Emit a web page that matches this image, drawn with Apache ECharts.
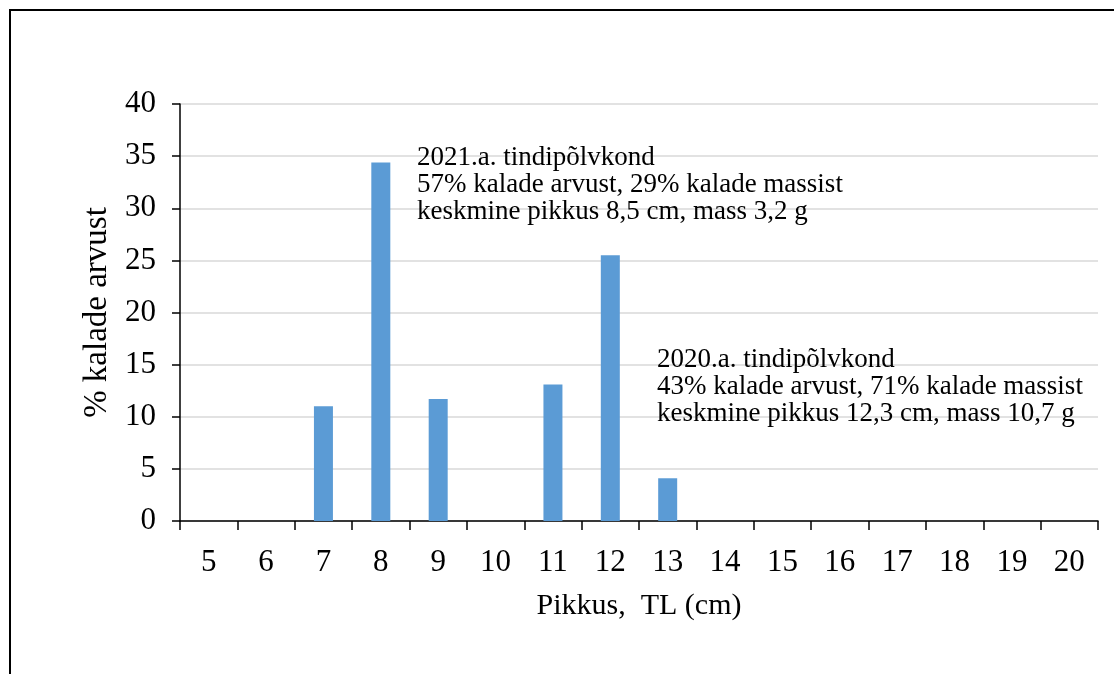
<!DOCTYPE html>
<html>
<head>
<meta charset="utf-8">
<style>
  html, body { margin: 0; padding: 0; background: #fff; }
  #chart { width: 1114px; height: 674px; }
</style>
<script src="https://cdn.jsdelivr.net/npm/echarts@6/dist/echarts.min.js"></script>
</head>
<body>
<div id="chart"></div>
<script>
// Length classes (TL, cm) and share of fish per class (%)
const lengthClasses = ['5','6','7','8','9','10','11','12','13','14','15','16','17','18','19','20'];
const shareOfCount = [0, 0, 11.0, 34.4, 11.7, 0, 13.1, 25.5, 4.1, 0, 0, 0, 0, 0, 0, 0];
const yTicks = { min: 0, max: 40, interval: 5 };

const cohort2021 = [
  '2021.a. tindipõlvkond',
  '57% kalade arvust, 29% kalade massist',
  'keskmine pikkus 8,5 cm, mass 3,2 g'
];
const cohort2020 = [
  '2020.a. tindipõlvkond',
  '43% kalade arvust, 71% kalade massist',
  'keskmine pikkus 12,3 cm, mass 10,7 g'
];

const FONT = '"Liberation Serif", "Times New Roman", serif';
const chart = echarts.init(document.getElementById('chart'));

function noteBlock(lines, x, y) {
  return {
    type: 'text',
    left: x,
    top: y,
    style: {
      text: lines.join('\n'),
      font: '27px ' + FONT,
      fill: '#000',
      lineHeight: 27
    },
    z: 10
  };
}

chart.setOption({
  animation: false,
  grid: { left: 180, right: 16, top: 104, bottom: 153, containLabel: false },
  xAxis: {
    type: 'category',
    data: lengthClasses,
    name: 'Pikkus,  TL (cm)',
    nameLocation: 'middle',
    nameGap: 70,
    nameTextStyle: { fontFamily: FONT, fontSize: 30, color: '#000' },
    axisLine: { lineStyle: { color: '#000', width: 1.5 } },
    axisTick: { show: true, length: 9, alignWithLabel: false, lineStyle: { color: '#000', width: 1.5 } },
    axisLabel: { fontFamily: FONT, fontSize: 31, color: '#000', margin: 26 },
    splitLine: { show: false }
  },
  yAxis: {
    type: 'value',
    min: yTicks.min,
    max: yTicks.max,
    interval: yTicks.interval,
    name: '% kalade arvust',
    nameLocation: 'middle',
    nameGap: 65,
    nameTextStyle: { fontFamily: FONT, fontSize: 33, color: '#000' },
    axisLine: { show: true, lineStyle: { color: '#000', width: 1.5 } },
    axisTick: { show: true, length: 8, lineStyle: { color: '#000', width: 1.5 } },
    axisLabel: { fontFamily: FONT, fontSize: 31, color: '#000', margin: 24 },
    splitLine: { lineStyle: { color: '#d9d9d9', width: 1.5 } }
  },
  series: [{
    type: 'bar',
    data: shareOfCount,
    barWidth: 19,
    itemStyle: { color: '#5b9bd5' }
  }],
  graphic: [
    {
      type: 'rect',
      shape: { x: 10, y: 10, width: 1300, height: 900 },
      style: { fill: 'none', stroke: '#000', lineWidth: 2 },
      silent: true
    },
    noteBlock(cohort2021, 417, 144),
    noteBlock(cohort2020, 657, 346)
  ]
});
</script>
</body>
</html>
